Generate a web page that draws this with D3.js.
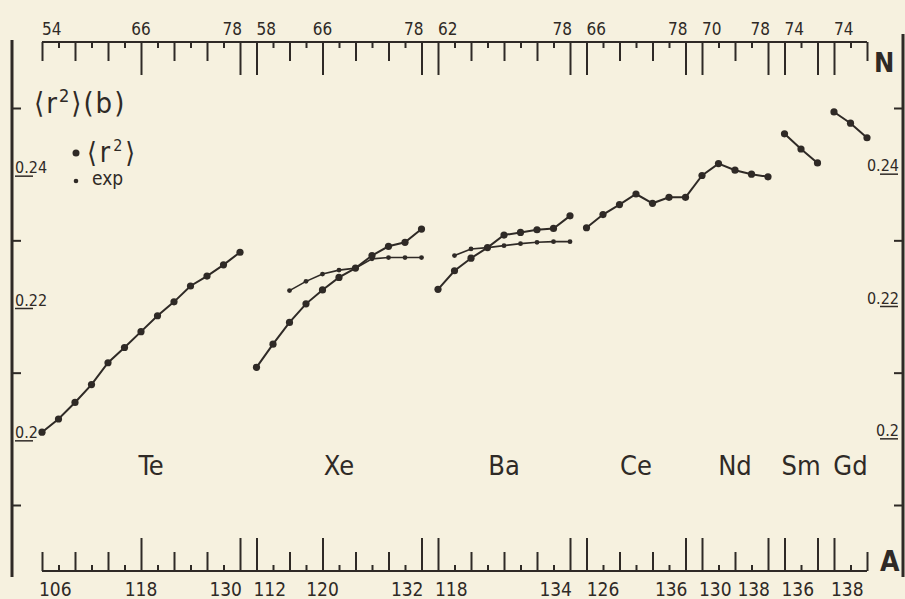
<!DOCTYPE html>
<html>
<head>
<meta charset="utf-8">
<script src="https://cdn.jsdelivr.net/npm/d3@7"></script>
<style>
body { margin: 0; background: #f6f1df; }
svg { display: block; font-family: "DejaVu Sans Condensed", "Liberation Sans Narrow", "Roboto Condensed", "DejaVu Sans", sans-serif; }
</style>
</head>
<body>
<script>
var width = 905, height = 599;
var ink = '#2f2a26';

// one block of the x axis per element
var elements = ['Te', 'Xe', 'Ba', 'Ce', 'Nd', 'Sm', 'Gd'];
var protons  = [52, 54, 56, 58, 60, 62, 64];
var nFirst   = [54, 58, 62, 66, 70, 74, 74];
var nLast    = [78, 78, 78, 78, 78, 78, 78];
var topLabels    = [[54, 66, 78], [58, 66, 78], [62, 78], [66, 78], [70, 78], [74], [74]];
var bottomLabels = [[106, 118, 130], [112, 120, 132], [118, 134], [126, 136], [130, 138], [136], [138]];

// <r2> (b), N = neutron number
var teN  = [54, 56, 58, 60, 62, 64, 66, 68, 70, 72, 74, 76, 78];
var teR2 = [0.2010, 0.2030, 0.2055, 0.2082, 0.2115, 0.2138, 0.2162, 0.2186, 0.2207, 0.2231, 0.2246, 0.2263, 0.2282];
var xeN  = [58, 60, 62, 64, 66, 68, 70, 72, 74, 76, 78];
var xeR2 = [0.2108, 0.2143, 0.2176, 0.2204, 0.2225, 0.2244, 0.2258, 0.2277, 0.2291, 0.2297, 0.2317];
var baN  = [62, 64, 66, 68, 70, 72, 74, 76, 78];
var baR2 = [0.2226, 0.2254, 0.2273, 0.2289, 0.2308, 0.2312, 0.2316, 0.2318, 0.2337];
var ceN  = [66, 68, 70, 72, 74, 76, 78];
var ceR2 = [0.2319, 0.2339, 0.2354, 0.2370, 0.2356, 0.2365, 0.2365];
var ndN  = [70, 72, 74, 76, 78];
var ndR2 = [0.2398, 0.2416, 0.2406, 0.2400, 0.2396];
var smN  = [74, 76, 78];
var smR2 = [0.2461, 0.2438, 0.2417];
var gdN  = [74, 76, 78];
var gdR2 = [0.2494, 0.2477, 0.2455];

// experimental values
var xeExpN = [62, 64, 66, 68, 70, 72, 74, 76, 78];
var xeExp  = [0.2224, 0.2238, 0.2249, 0.2255, 0.2258, 0.2272, 0.2274, 0.2274, 0.2274];
var baExpN = [64, 66, 68, 70, 72, 74, 76, 78];
var baExp  = [0.2277, 0.2287, 0.2289, 0.2292, 0.2295, 0.2297, 0.2298, 0.2298];

var yTicks = [0.19, 0.21, 0.23, 0.25];
var yLabels = [0.2, 0.22, 0.24];

var x_start = 42, n_px = 8.25, gap = 16.5;
var axis_top = 42, axis_bottom = 571, left_x = 12, right_x = 903;

var svg = d3.select('body').append('svg').attr('width', width).attr('height', height);
svg.append('rect').attr('width', width).attr('height', height).attr('fill', '#f6f1df');

// piecewise x: a scale per element block, in N (top) and in A (bottom)
var xN = {}, xA = {};
var pos = x_start;
elements.forEach(function(el, i) {
	var w = (nLast[i] - nFirst[i]) * n_px;
	xN[el] = d3.scaleLinear().domain([nFirst[i], nLast[i]]).range([pos, pos + w]);
	xA[el] = d3.scaleLinear().domain([nFirst[i] + protons[i], nLast[i] + protons[i]]).range([pos, pos + w]);
	pos += w + gap;
});
var x_end = pos - gap;

var yScale = d3.scaleLinear().domain([0.19, 0.25]).range([505, 108]);

// frame lines
svg.append('line').attr('x1', x_start).attr('x2', x_end).attr('y1', axis_top).attr('y2', axis_top)
	.attr('stroke', ink).attr('stroke-width', 2);
svg.append('line').attr('x1', x_start).attr('x2', x_end).attr('y1', axis_bottom).attr('y2', axis_bottom)
	.attr('stroke', ink).attr('stroke-width', 2);
svg.append('line').attr('x1', left_x).attr('x2', left_x).attr('y1', 40).attr('y2', 577)
	.attr('stroke', ink).attr('stroke-width', 3);
svg.append('line').attr('x1', right_x).attr('x2', right_x).attr('y1', 34).attr('y2', 577)
	.attr('stroke', ink).attr('stroke-width', 3);

// tick groups per element: short at N%4==0, medium at N%4==2, long at block ends / labelled N
function tickSets(i) {
	var sm = [], md = [], lg = [];
	for (var n = nFirst[i]; n <= nLast[i]; n += 2) {
		var isEnd = (n == nFirst[i] || n == nLast[i]);
		var outer = (i == 0 && n == nFirst[i]) || (i == elements.length - 1 && n == nLast[i]);
		if (outer) md.push(n);
		else if (isEnd || (topLabels[i].indexOf(n) >= 0)) lg.push(n);
		else if (n % 4 == 2) md.push(n);
		else sm.push(n);
	}
	return [[sm, 6], [md, 19], [lg, 33]];
}

elements.forEach(function(el, i) {
	tickSets(i).forEach(function(ts) {
		var gt = svg.append('g').attr('transform', 'translate(0,' + axis_top + ')')
			.call(d3.axisBottom(xN[el]).tickValues(ts[0]).tickSize(ts[1]).tickFormat(''));
		var gb = svg.append('g').attr('transform', 'translate(0,' + axis_bottom + ')')
			.call(d3.axisTop(xA[el]).tickValues(ts[0].map(function(n) { return n + protons[i]; })).tickSize(ts[1]).tickFormat(''));
		[gt, gb].forEach(function(g) {
			g.select('.domain').remove();
			g.selectAll('line').attr('stroke', ink).attr('stroke-width', 2);
		});
	});

	// tick labels: block start left-aligned, block end right-aligned
	function anchorFor(v, lo, hi) {
		if (v == lo) return 'start';
		if (v == hi) return 'end';
		return 'middle';
	}
	function shiftFor(a) { return a == 'start' ? 0 : (a == 'end' ? 2 : 0); }
	topLabels[i].forEach(function(n) {
		var a = anchorFor(n, nFirst[i], nLast[i]);
		svg.append('text').attr('x', xN[el](n) + shiftFor(a)).attr('y', 35)
			.attr('text-anchor', a).attr('font-size', 17).attr('fill', ink).text(n);
	});
	bottomLabels[i].forEach(function(A) {
		var a = anchorFor(A, nFirst[i] + protons[i], nLast[i] + protons[i]);
		svg.append('text').attr('x', xA[el](A) + shiftFor(a) - (a == 'start' ? 3 : 0)).attr('y', 596)
			.attr('text-anchor', a).attr('font-size', 19).attr('fill', ink).text(A);
	});

	// element name (Te sits a little right of its block centre in the figure)
	var mid = (xN[el].range()[0] + xN[el].range()[1]) / 2;
	svg.append('text').attr('x', el == 'Te' ? mid + 10 : mid).attr('y', 475)
		.attr('text-anchor', 'middle').attr('font-size', 27).attr('fill', ink).text(el);
});

svg.append('text').attr('x', 874).attr('y', 72).attr('font-size', 27).attr('font-weight', 'bold')
	.attr('fill', ink).text('N');
svg.append('text').attr('x', 880).attr('y', 571).attr('font-size', 28).attr('font-weight', 'bold')
	.attr('fill', ink).text('A');

// y axes: ticks at odd hundredths, underlined labels at even ones
var yl = svg.append('g').attr('transform', 'translate(' + left_x + ',0)')
	.call(d3.axisRight(yScale).tickValues(yTicks).tickSize(9).tickFormat(''));
var yr = svg.append('g').attr('transform', 'translate(' + right_x + ',0)')
	.call(d3.axisLeft(yScale).tickValues(yTicks).tickSize(9).tickFormat(''));
[yl, yr].forEach(function(g) {
	g.select('.domain').remove();
	g.selectAll('line').attr('stroke', ink).attr('stroke-width', 2);
});
yLabels.forEach(function(v) {
	var t = d3.format('.2~f')(v);
	svg.append('text').attr('x', 15).attr('y', yScale(v) - 1).attr('font-size', 16).attr('fill', ink).text(t);
	svg.append('line').attr('x1', 15).attr('x2', 33).attr('y1', yScale(v) + 2).attr('y2', yScale(v) + 2)
		.attr('stroke', ink).attr('stroke-width', 1.5);
	svg.append('text').attr('x', 899).attr('y', yScale(v) - 3).attr('text-anchor', 'end')
		.attr('font-size', 16).attr('fill', ink).text(t);
	svg.append('line').attr('x1', 880).attr('x2', 898).attr('y1', yScale(v)).attr('y2', yScale(v))
		.attr('stroke', ink).attr('stroke-width', 1.5);
});

// title and legend
var title = svg.append('text').attr('x', 34).attr('y', 113).attr('font-size', 29)
	.attr('letter-spacing', 2).attr('fill', ink);
title.append('tspan').text('\u27e8r');
title.append('tspan').attr('font-size', 18).attr('dy', -11).text('2');
title.append('tspan').attr('dy', 11).text('\u27e9(b)');

svg.append('circle').attr('cx', 76).attr('cy', 153).attr('r', 3.5).attr('fill', ink);
var lg1 = svg.append('text').attr('x', 87).attr('y', 162).attr('font-size', 28)
	.attr('letter-spacing', 3).attr('fill', ink);
lg1.append('tspan').text('\u27e8r');
lg1.append('tspan').attr('font-size', 16).attr('dy', -11).text('2');
lg1.append('tspan').attr('dy', 11).text('\u27e9');
svg.append('circle').attr('cx', 76).attr('cy', 181).attr('r', 2.3).attr('fill', ink);
svg.append('text').attr('x', 92).attr('y', 185).attr('font-size', 19).attr('fill', ink).text('exp');

// data
var r2Series = [
	{el: 'Te', n: teN, v: teR2}, {el: 'Xe', n: xeN, v: xeR2}, {el: 'Ba', n: baN, v: baR2},
	{el: 'Ce', n: ceN, v: ceR2}, {el: 'Nd', n: ndN, v: ndR2}, {el: 'Sm', n: smN, v: smR2},
	{el: 'Gd', n: gdN, v: gdR2}
];
var expSeries = [{el: 'Xe', n: xeExpN, v: xeExp}, {el: 'Ba', n: baExpN, v: baExp}];

function pts(s) {
	return s.n.map(function(n, i) { return [xN[s.el](n), yScale(s.v[i])]; });
}
var line = d3.line();

expSeries.forEach(function(s) {
	var p = pts(s);
	svg.append('path').attr('d', line(p)).attr('fill', 'none').attr('stroke', ink).attr('stroke-width', 1.6);
	svg.selectAll(null).data(p).enter().append('circle')
		.attr('cx', d => d[0]).attr('cy', d => d[1]).attr('r', 2.4).attr('fill', ink);
});

r2Series.forEach(function(s) {
	var p = pts(s);
	svg.append('path').attr('d', line(p)).attr('fill', 'none').attr('stroke', ink).attr('stroke-width', 2);
	svg.selectAll(null).data(p).enter().append('circle')
		.attr('cx', d => d[0]).attr('cy', d => d[1]).attr('r', 3.6).attr('fill', ink);
});

// Ce and Nd are joined in the figure
svg.append('path').attr('d', line([
		[xN.Ce(ceN[ceN.length - 1]), yScale(ceR2[ceR2.length - 1])],
		[xN.Nd(ndN[0]), yScale(ndR2[0])]
	])).attr('stroke', ink).attr('stroke-width', 2);
</script>
</body>
</html>
